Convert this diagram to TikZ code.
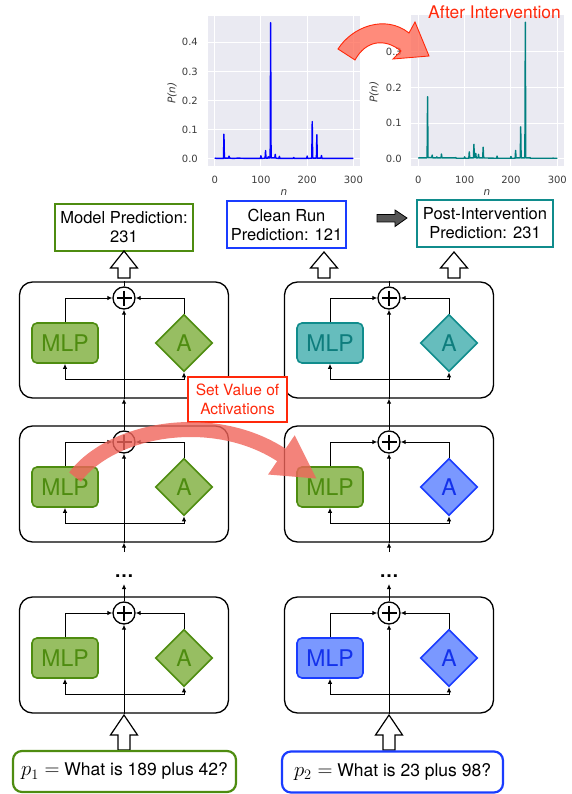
\documentclass[tikz,border=0pt]{standalone}
\usepackage{fontspec}
\setmainfont{TeX Gyre Heros}
\newfontfamily\plotfont{DejaVu Sans}
\usetikzlibrary{shapes.geometric,arrows.meta,calc}

\definecolor{gB}{RGB}{78,140,16}
\definecolor{gF}{RGB}{151,190,98}
\definecolor{tB}{RGB}{16,140,140}
\definecolor{tF}{RGB}{102,189,189}
\definecolor{tT}{RGB}{14,125,125}
\definecolor{bB}{RGB}{26,60,255}
\definecolor{bF}{RGB}{122,152,255}
\definecolor{bT}{RGB}{20,50,235}
\definecolor{rd}{RGB}{255,40,10}
\definecolor{salmon}{RGB}{240,100,90}
\definecolor{arrfill}{RGB}{255,110,90}
\definecolor{plotbg}{RGB}{234,234,242}
\definecolor{tickc}{RGB}{60,60,60}
\definecolor{tealline}{RGB}{0,128,128}
\definecolor{darkarrow}{RGB}{85,85,85}

\tikzset{
 conn/.style={line width=1pt, -{Latex[length=5pt,width=4.5pt]}},
 plainline/.style={line width=1pt},
 blockbox/.style={draw, line width=1.3pt, rounded corners=13pt, minimum width=209pt, minimum height=116pt, inner sep=0pt},
 plusnode/.style={circle, draw, line width=1.3pt, minimum size=22pt, inner sep=0pt, fill=white},
 mlpnode/.style={rounded corners=5pt, minimum width=66pt, minimum height=40pt, line width=1.6pt, inner sep=0pt, font=\fontsize{23}{23}\selectfont},
 attnode/.style={diamond, minimum width=57pt, minimum height=57pt, inner sep=0pt, line width=1.6pt, font=\fontsize{23}{23}\selectfont},
 greenS/.style={draw=gB, fill=gF, text=gB},
 tealS/.style={draw=tB, fill=tF, text=tT},
 blueS/.style={draw=bB, fill=bF, text=bT},
 predbox/.style={draw, line width=2.2pt, fill=white, align=center, inner sep=0pt, minimum height=47pt, font=\fontsize{16.5}{19}\selectfont},
 promptbox/.style={draw, line width=2.2pt, rounded corners=9pt, minimum height=41pt, inner sep=0pt, fill=white, font=\fontsize{17.5}{20}\selectfont},
 hollow/.style={draw, fill=white, line width=1.2pt, line join=miter},
 ticklab/.style={font=\plotfont\fontsize{10}{10}\selectfont, text=tickc, inner sep=0pt},
 axlab/.style={font=\plotfont\itshape\fontsize{10.5}{10.5}\selectfont, text=tickc, inner sep=0pt},
 dotsnode/.style={font=\bfseries\fontsize{19}{19}\selectfont, inner sep=0pt, anchor=base},
}

\newcommand\drawblock[5]{%
 \node[blockbox] (#1box) at (#2,#3+42) {};
 \node[plusnode] (#1plus) at (#2,#3) {};
 \draw[line width=2.8pt] (#1plus.center) ++(-7.5,0) -- ++(15,0) (#1plus.center) ++(0,-7.5) -- ++(0,15);
 \node[mlpnode,#4] (#1mlp) at (#2-59,#3+45) {MLP};
 \node[attnode,#5] (#1att) at (#2+60,#3+45) {A};
 \draw[conn] (#1mlp.north) |- (#1plus.west);
 \draw[conn] (#1att.north) |- (#1plus.east);
 \coordinate (#1j) at (#2,#3+81);
 \draw[conn] (#1j) -| (#1mlp.south);
 \draw[conn] (#1j) -| (#1att.south);
 \draw[conn] (#1box.south) -- (#1plus.south);
}

\newcommand\hollowup[4]{%
 \draw[hollow] (#1,#2) -- (#1+13.5,#3) -- (#1+6,#3) -- (#1+6,#4) -- (#1-6,#4) -- (#1-6,#3) -- (#1-13.5,#3) -- cycle;}

\newcommand\bigmath[1]{{\fontsize{21}{21}\selectfont$#1$}}

\begin{document}
\begin{tikzpicture}[x=1pt,y=-1pt]
\useasboundingbox (0,0) rectangle (571,794);

% ---------- plot 1 (clean run) ----------
\begin{scope}[shift={(214.7,159)}, x=0.4622pt, y=292pt]
 \fill[plotbg] (-15,-0.0234) rectangle (315,0.4903);
 \foreach \n in {0,100,200,300} \draw[white, line width=1pt] (\n,-0.0234) -- (\n,0.4903);
 \foreach \v in {0,0.1,0.2,0.3,0.4} \draw[white, line width=1pt] (-15,\v) -- (315,\v);
 \draw[blue, line width=1.4pt, line join=round] plot coordinates {
 (0,0.003) (5,0.002) (19,0.002) (20,0.085) (21,0.003) (30,0.003) (31,0.010) (32,0.003)
 (40,0.002) (50,0.003) (70,0.002) (99,0.002) (100,0.011) (101,0.002) (109,0.003) (110,0.029)
 (111,0.003) (115,0.003) (116,0.008) (117,0.003) (120,0.004) (121,0.467) (122,0.004)
 (130,0.004) (131,0.016) (132,0.003) (139,0.002) (140,0.009) (141,0.002) (170,0.002)
 (171,0.005) (172,0.002) (199,0.002) (200,0.010) (201,0.002) (210,0.003) (211,0.128)
 (212,0.003) (220,0.003) (221,0.083) (222,0.003) (230,0.003) (231,0.012) (232,0.002) (300,0.002)};
\end{scope}
\foreach \v/\yy in {0.0/159,0.1/129.8,0.2/100.6,0.3/71.4,0.4/42.2}
 \node[ticklab, anchor=east] at (198,\yy) {\v};
\foreach \n/\xx in {0/214.7,100/260.9,200/307.1,300/353.4}
 \node[ticklab] at (\xx,180) {\n};
\node[axlab] (n1) at (284,193) {n};
\node[axlab, rotate=90] (pn1) at (172,93) {P(n)};

% ---------- plot 2 (after intervention) ----------
\begin{scope}[shift={(418.3,159)}, x=0.4633pt, y=358pt]
 \fill[plotbg] (-15,-0.019) rectangle (315,0.401);
 \foreach \n in {0,100,200,300} \draw[white, line width=1pt] (\n,-0.019) -- (\n,0.401);
 \foreach \v in {0,0.1,0.2,0.3} \draw[white, line width=1pt] (-15,\v) -- (315,\v);
 \draw[tealline, line width=1.4pt, line join=round] plot coordinates {
 (0,0.004) (1,0.003) (10,0.003) (19,0.003) (20,0.174) (21,0.004) (29,0.004) (30,0.011) (31,0.003)
 (39,0.003) (40,0.006) (41,0.003) (49,0.003) (50,0.014) (51,0.003) (80,0.003) (81,0.004) (82,0.002)
 (99,0.002) (100,0.006) (101,0.002) (109,0.002) (110,0.020) (111,0.003) (119,0.003) (120,0.041)
 (121,0.004) (123,0.004) (124,0.016) (125,0.003) (129,0.003) (130,0.013) (131,0.003) (139,0.003)
 (140,0.033) (141,0.003) (169,0.002) (170,0.008) (171,0.002) (199,0.002) (200,0.007) (201,0.002)
 (209,0.002) (210,0.024) (211,0.003) (220,0.003) (221,0.090) (222,0.003) (230,0.003) (231,0.382)
 (232,0.003) (240,0.003) (241,0.004) (242,0.002) (290,0.002) (291,0.003) (292,0.002) (300,0.002)};
\end{scope}
\foreach \v/\yy in {0.0/159,0.1/123.2,0.2/87.4,0.3/51.6}
 \node[ticklab, anchor=east] at (402,\yy) {\v};
\foreach \n/\xx in {0/418.3,100/464.6,200/510.9,300/557.3}
 \node[ticklab] at (\xx,180) {\n};
\node[axlab] (n2) at (487,193) {n};
\node[axlab, rotate=90] (pn2) at (374,92) {P(n)};

% curved arrow between plots
\draw[rd, line width=0.9pt, fill=arrfill, fill opacity=0.8]
 (338,49) .. controls (352,27) and (385,14) .. (409,33) -- (415,22) -- (429,56) -- (393,59)
 -- (401,51) .. controls (385,38) and (366,40) .. (355,60) -- cycle;
\node[text=rd, font=\fontsize{17.4}{18}\selectfont, inner sep=0pt] (ai) at (494.5,12.5) {After Intervention};

% ---------- prediction boxes ----------
\node[predbox, draw=gB, minimum width=138pt] (mp) at (124,227.5) {Model Prediction:\\231};
\node[predbox, draw=bB, minimum width=119pt] (cr) at (286.5,224.5) {Clean Run\\Prediction: 121};
\node[predbox, draw=tB, minimum width=136pt] (pi) at (485,223.5) {Post-Intervention\\Prediction: 231};
\draw[fill=darkarrow, line width=0.8pt, line join=miter] (377,214.5) -- (395,214.5) -- (395,210) -- (407,218)
 -- (395,226.5) -- (395,222) -- (377,222) -- cycle;

% ---------- blocks ----------
\drawblock{L1}{124}{298}{greenS}{greenS}
\drawblock{L2}{124}{442}{greenS}{greenS}
\drawblock{L3}{124}{613}{greenS}{greenS}
\drawblock{R1}{389}{298}{tealS}{tealS}
\drawblock{R2}{389}{442}{greenS}{blueS}
\drawblock{R3}{389}{613}{blueS}{blueS}

% links between blocks
\draw[conn] (L2plus.north) -- (L1box.south);
\draw[conn] (R2plus.north) -- (R1box.south);
\draw[plainline] (L1plus.north) -- (L1box.north);
\draw[plainline] (R1plus.north) -- (R1box.north);
\coordinate (L2in) at (124,552);
\coordinate (R2in) at (389,552);
\draw[conn] (L2in) -- (L2box.south);
\draw[conn] (R2in) -- (R2box.south);
\coordinate (L3out) at (124,584);
\coordinate (R3out) at (389,584);
\draw[conn] (L3plus.north) -- (L3out);
\draw[conn] (R3plus.north) -- (R3out);
\node[dotsnode] (Ldots) at (124,577) {\dots};
\node[dotsnode] (Rdots) at (389,577) {\dots};

% hollow arrows
\hollowup{124}{251}{268}{278}
\hollowup{324}{252}{268}{278}
\hollowup{454}{252}{268}{278}
\hollowup{124}{715}{735}{750}
\hollowup{389}{715}{735}{750}

% set value box
\node[predbox, draw=rd, text=rd, minimum width=99pt, minimum height=45pt, font=\fontsize{15.5}{19}\selectfont] (sv) at (237.5,399.5) {Set Value of\\Activations};

% prompts
\node[promptbox, draw=gB, minimum width=223pt] (p1) at (124.5,771.5) {\bigmath{p_1 =} What is 189 plus 42?};
\node[promptbox, draw=bB, minimum width=221pt] (p2) at (392.5,772) {\bigmath{p_2 =} What is 23 plus 98?};

% patching arrow
\begin{scope}[transparency group, opacity=0.8]
 \draw[salmon, line width=15pt, -{Triangle[length=43pt,width=44pt]}]
 (75,477) .. controls (112,428) and (215,410) .. (317,479);
\end{scope}
\end{tikzpicture}
\end{document}
